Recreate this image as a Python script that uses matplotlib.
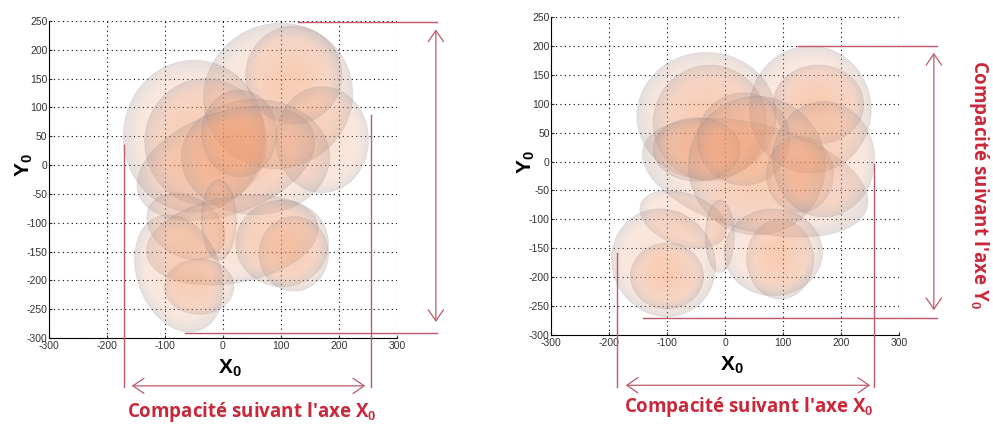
import numpy as np
import matplotlib
matplotlib.use("Agg")
import matplotlib.pyplot as plt
from matplotlib.patches import Ellipse, FancyArrowPatch
from matplotlib.colors import LinearSegmentedColormap

plt.rcParams['font.family'] = ['Liberation Sans', 'DejaVu Sans']
plt.rcParams['mathtext.fontset'] = 'custom'
plt.rcParams['mathtext.rm'] = 'Liberation Sans'
plt.rcParams['mathtext.bf'] = 'Liberation Sans:bold'
plt.rcParams['axes.unicode_minus'] = False

# ellipsoid footprints (centre x, centre y, half axis x, half axis y, angle)
left_cx = [95, 122, 171, -50, -30, 56, 28, 5, -64, 16, -7, 122, -41, -76, 102]
left_cy = [120, 156, 44, 50, 40, 14, 55, 3, -107, -130, -95, -154, -211, -188, -136]
left_rx = [130, 83, 80, 122, 105, 128, 65, 160, 72, 150, 30, 60, 60, 72, 80]
left_ry = [125, 85, 92, 132, 110, 100, 75, 88, 52, 75, 70, 65, 48, 105, 75]
left_ang = [30, 0, 0, 0, 0, 0, 0, 20, -30, 10, 0, 0, 0, 20, 0]

right_cx = [-32, -26, 147, 161, 52, 32, -49, 129, 55, -72, -106, -100, -9, 95, 83, 170]
right_cy = [79, 67, 90, 99, -28, 39, 21, -22, -7, -100, -175, -198, -129, -169, -157, 4]
right_rx = [120, 98, 105, 78, 200, 80, 75, 58, 118, 78, 88, 63, 25, 58, 85, 88]
right_ry = [110, 100, 110, 68, 92, 80, 55, 66, 120, 45, 95, 57, 63, 69, 75, 100]
right_ang = [0, 0, 0, 0, -15, 0, 0, 0, 0, -20, 30, 0, 0, 0, 0, 0]

# compactness extents read on the picture
left_xspan = (-170, 255)
left_yspan = (-291, 248)
right_xspan = (-186, 257)
right_yspan = (-271, 200)

xticks = [-300, -200, -100, 0, 100, 200, 300]
yticks = [-300, -250, -200, -150, -100, -50, 0, 50, 100, 150, 200, 250]

red_line = '#bd5a6c'
red_text = '#c8283a'

blob_cmap = LinearSegmentedColormap.from_list('blob', [
    (0.0, (0.96, 0.57, 0.34, 0.28)),
    (0.75, (0.92, 0.62, 0.48, 0.24)),
    (1.0, (0.66, 0.58, 0.56, 0.30))])


def blob(ax, x, y, rx, ry, ang):
    t = np.deg2rad(ang)
    e = max(rx, ry)
    xs = np.linspace(x - e, x + e, 160)
    ys = np.linspace(y - e, y + e, 160)
    X, Y = np.meshgrid(xs, ys)
    dx, dy = X - x, Y - y
    u = (dx * np.cos(t) + dy * np.sin(t)) / rx
    v = (-dx * np.sin(t) + dy * np.cos(t)) / ry
    r = np.sqrt(u * u + v * v).clip(0, 1)
    patch = Ellipse((x, y), 2 * rx, 2 * ry, angle=ang, transform=ax.transData)
    im = ax.imshow(r, cmap=blob_cmap, vmin=0, vmax=1, origin='lower',
                   extent=(x - e, x + e, y - e, y + e), aspect='auto',
                   interpolation='bilinear', zorder=1)
    im.set_clip_path(patch)
    ax.add_patch(Ellipse((x, y), 2 * rx, 2 * ry, angle=ang, fill=False,
                         ec=(0.45, 0.40, 0.40, 0.12), lw=0.6, zorder=1))


def setup(ax):
    ax.set_xlim(-300, 300)
    ax.set_ylim(-300, 250)
    ax.set_xticks(xticks)
    ax.set_yticks(yticks)
    ax.set_axisbelow(True)
    ax.grid(True, color='k', ls=(0, (1, 3)), lw=0.8)
    ax.spines['top'].set_visible(False)
    ax.spines['right'].set_visible(False)
    ax.tick_params(direction='in', length=2, labelsize=7.5, colors='#333333', pad=1)
    ax.tick_params(axis='x', pad=2)
    ax.set_xlabel(r'$\mathbf{X}_\mathbf{0}$', fontsize=15)
    ax.set_ylabel(r'$\mathbf{Y}_\mathbf{0}$', fontsize=15)
    ax.xaxis.set_label_coords(0.52, -0.06)
    ax.yaxis.set_label_coords(-0.04, 0.545)


def seg(ax, x0, y0, x1, y1):
    ax.plot([x0, x1], [y0, y1], color=red_line, lw=1.0, clip_on=False, zorder=3)


def arrow(ax, x0, y0, x1, y1):
    a = FancyArrowPatch((x0, y0), (x1, y1), arrowstyle='<->,head_length=0.8,head_width=0.55',
                        mutation_scale=10, color=red_line, lw=0.9, clip_on=False, zorder=3)
    ax.add_patch(a)


fig = plt.figure(figsize=(9.93, 4.25), dpi=100)
ax1 = fig.add_axes([0.0493, 0.2047, 0.3505, 0.746])
ax2 = fig.add_axes([0.5549, 0.2118, 0.3505, 0.748])

for ax, cx, cy, rx, ry, ang in [(ax1, left_cx, left_cy, left_rx, left_ry, left_ang),
                                (ax2, right_cx, right_cy, right_rx, right_ry, right_ang)]:
    setup(ax)
    for i in range(len(cx)):
        blob(ax, cx[i], cy[i], rx[i], ry[i], ang[i])
    ax.set_xlim(-300, 300)
    ax.set_ylim(-300, 250)

label_x = r"Compacité suivant l'axe X$_\mathbf{0}$"
label_y = r"Compacité suivant l'axe Y$_\mathbf{0}$"

# left panel
x0, x1 = left_xspan
y0, y1 = left_yspan
seg(ax1, x0, 35, x0, -385)
seg(ax1, x1, 87, x1, -385)
arrow(ax1, x0 + 8, -383, x1 - 5, -383)
seg(ax1, 129, y1, 369, y1)
seg(ax1, -66, y0, 369, y0)
arrow(ax1, 367, y1 - 8, 367, y0 + 14)
ax1.text((x0 + x1) / 2 + 8, -428, label_x, color=red_text, fontsize=13.5,
         family='Open Sans', weight='bold', ha='center', va='center', clip_on=False)

# right panel
x0, x1 = right_xspan
y0, y1 = right_yspan
seg(ax2, x0, -158, x0, -390)
seg(ax2, x1, -4, x1, -390)
arrow(ax2, x0 + 10, -387, x1 - 2, -387)
seg(ax2, 126, y1, 365, y1)
seg(ax2, -141, y0, 365, y0)
arrow(ax2, 360, y1 - 7, 360, y0 + 9)
ax2.text((x0 + x1) / 2 + 6, -424, label_x, color=red_text, fontsize=13.5,
         family='Open Sans', weight='bold', ha='center', va='center', clip_on=False)
ax2.text(438, (y0 + y1) / 2 - 4, label_y, color=red_text, fontsize=13.5,
         family='Open Sans', weight='bold', ha='center', va='center', rotation=-90,
         clip_on=False)

fig.savefig('out.png', dpi=100)
